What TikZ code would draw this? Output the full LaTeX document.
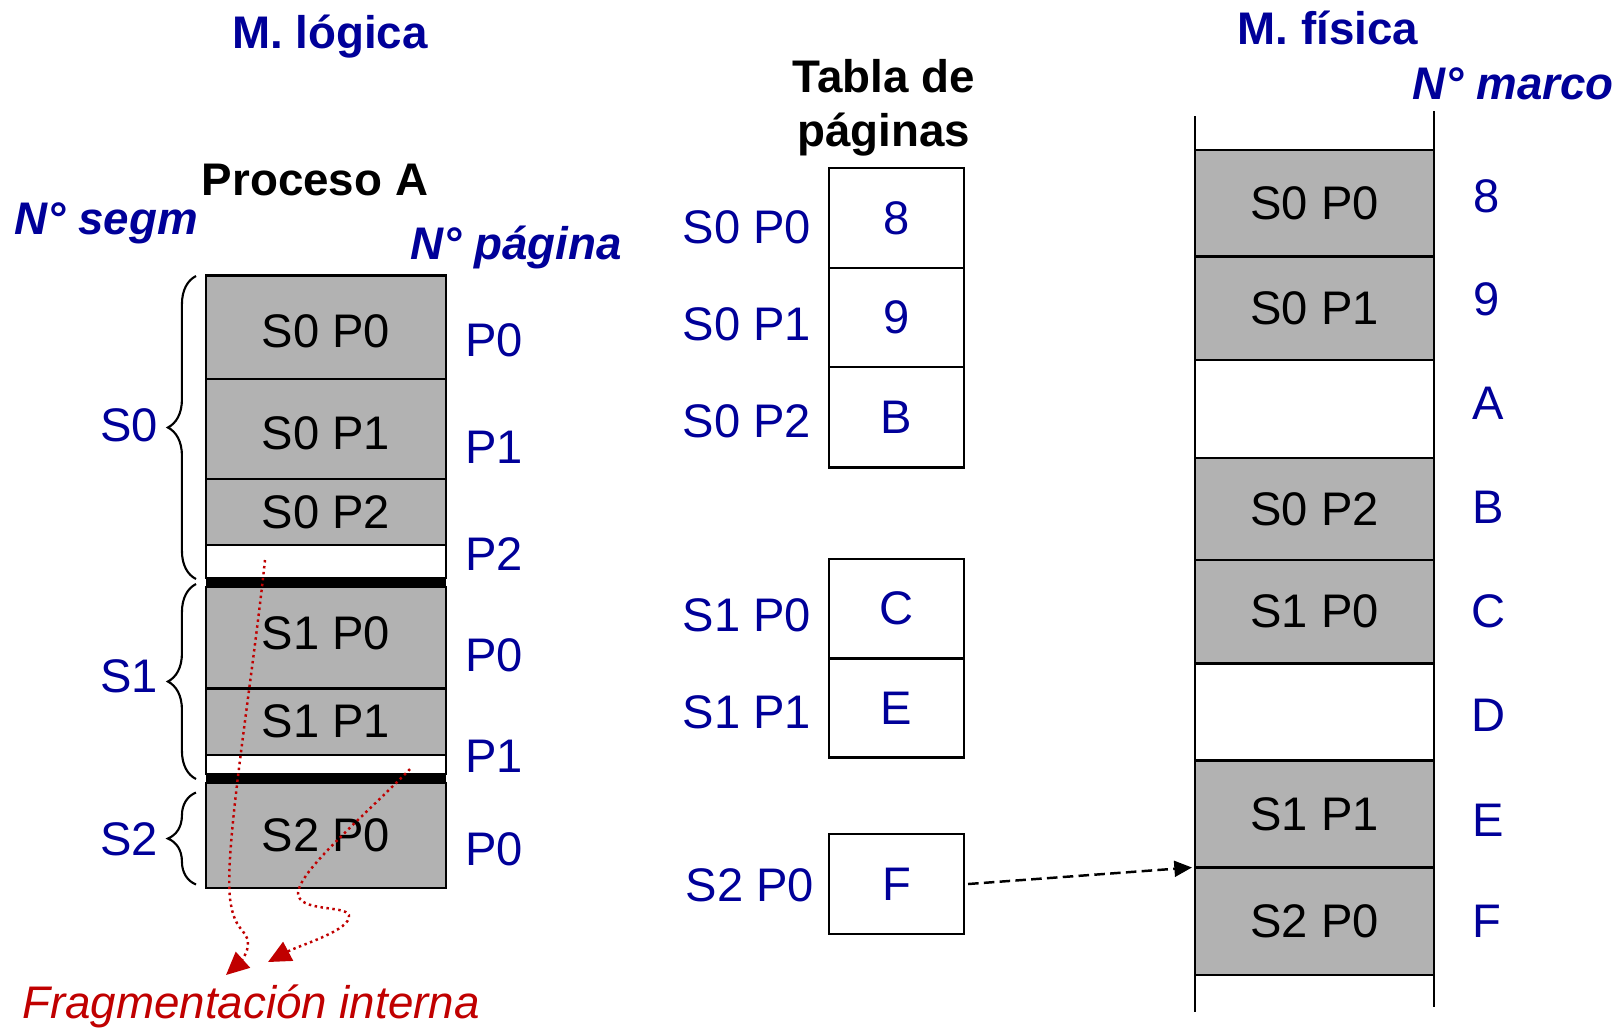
\documentclass[tikz,border=0pt]{standalone}
\usepackage{fontspec}
\setmainfont{Liberation Sans}
\usepackage{tikz}
\usetikzlibrary{positioning,arrows.meta,decorations.pathreplacing}
\usepackage{xcolor}
\definecolor{tblue}{RGB}{0,0,153}
\definecolor{pgray}{RGB}{178,178,178}
\definecolor{fred}{RGB}{192,0,0}

\begin{document}
\begin{tikzpicture}[x=0.01cm, y=-0.01cm,
    pagebox/.style={draw, line width=0.6pt, fill=pgray, minimum width=2.4cm, inner sep=0pt, outer sep=0pt, font=\fontsize{13.4}{16}\selectfont},
    gapbox/.style={draw, line width=0.6pt, fill=white, minimum width=2.4cm, inner sep=0pt, outer sep=0pt},
    barbox/.style={fill=black, minimum width=2.4cm, minimum height=0.09cm, inner sep=0pt, outer sep=0pt},
    framebox/.style={draw, line width=0.6pt, fill=pgray, minimum width=2.39cm, inner sep=0pt, outer sep=0pt, font=\fontsize{13.4}{16}\selectfont},
    tcell/.style={draw, line width=0.6pt, minimum width=1.35cm, inner sep=0pt, outer sep=0pt, text=tblue, font=\fontsize{13.4}{16}\selectfont},
    bluelabel/.style={text=tblue, inner sep=0pt, font=\fontsize{13.4}{16}\selectfont},
    titleblue/.style={text=tblue, inner sep=0pt, font=\fontsize{13}{16}\selectfont\bfseries},
    titleblack/.style={inner sep=0pt, font=\fontsize{13}{15.4}\selectfont\bfseries},
    axisblue/.style={text=tblue, inner sep=0pt, font=\fontsize{13}{16}\selectfont\bfseries\itshape},
    segbrace/.style={decorate, decoration={brace, amplitude=8pt}, line width=0.6pt},
    fragarrow/.style={fred, line width=0.7pt, densely dotted, -{Triangle[length=6.5pt, width=6pt]}},
    dasharrow/.style={line width=0.7pt, dash pattern=on 3pt off 1.5pt, -{Triangle[length=5pt, width=4.5pt]}}]
    \useasboundingbox (0,0) rectangle (1618,1029);

    % Titles
    \node[titleblue] (mlog) at (330,37) {M. lógica};
    \node[titleblack] (proc) at (315,180) {Proceso A};
    \node[axisblue] (nseg) at (106,223) {N° segm};
    \node[axisblue] (npag) at (516,247.5) {N° página};
    \node[titleblack, align=center] (tabla) at (884,108) {Tabla de\\páginas};
    \node[titleblue] (mfis) at (1328,28) {M. física};
    \node[axisblue] (nmar) at (1513,84) {N° marco};

    % Logical memory of process A
    \node[pagebox, minimum height=1.035cm, text height=0.40cm] (ls0p0) at (326,327.25) {S0 P0};
    \node[pagebox, minimum height=1.0cm, text height=0.41cm] (ls0p1) at (326,429) {S0 P1};
    \node[pagebox, minimum height=0.66cm] (ls0p2) at (326,512) {S0 P2};
    \node[gapbox, minimum height=0.33cm] (ls0gap) at (326,561.5) {};
    \node[barbox] (ls0end) at (326,582.5) {};
    \node[pagebox, minimum height=1.015cm, text depth=0.1cm] (ls1p0) at (326,637.75) {S1 P0};
    \node[pagebox, minimum height=0.665cm] (ls1p1) at (326,721.75) {S1 P1};
    \node[gapbox, minimum height=0.19cm] (ls1gap) at (326,764.5) {};
    \node[barbox] (ls1end) at (326,778.5) {};
    \node[pagebox, minimum height=1.05cm] (ls2p0) at (326,835.5) {S2 P0};

    % Page numbers
    \node[bluelabel] (lp0) at (494,340.5) {P0};
    \node[bluelabel] (lp1) at (494,447) {P1};
    \node[bluelabel] (lp2) at (494,554) {P2};
    \node[bluelabel] (lq0) at (494,655) {P0};
    \node[bluelabel] (lq1) at (494,756.5) {P1};
    \node[bluelabel] (lr0) at (494,849) {P0};

    % Segment braces
    \draw[segbrace] (196,579) -- (196,276);
    \draw[segbrace] (196,779) -- (196,584);
    \draw[segbrace] (196,884.5) -- (196,792.5);
    \node[bluelabel] (seg0) at (129,425) {S0};
    \node[bluelabel] (seg1) at (129,676) {S1};
    \node[bluelabel] (seg2) at (129,839) {S2};

    % Internal fragmentation
    \node[text=fred, inner sep=0pt, font=\fontsize{13}{16}\selectfont\itshape] (frag) at (251,1006) {Fragmentación interna};
    \coordinate (hole0) at (265,560);
    \coordinate (hole1) at (410,769);
    \coordinate (tip0) at (226,975);
    \coordinate (tip1) at (268,962);
    \draw[fragarrow] (hole0) .. controls (250,700) and (222,860) .. (231,905) .. controls (236,935) and (252,930) .. (247,950) .. controls (244,960) and (236,966) .. (tip0);
    \draw[fragarrow] (hole1) .. controls (360,820) and (300,870) .. (298,893) .. controls (298,912) and (345,905) .. (349,915) .. controls (352,930) and (300,945) .. (tip1);

    % Page tables
    \node[tcell, minimum height=1.0cm] (t00) at (896.5,218) {8};
    \node[tcell, minimum height=0.99cm] (t01) at (896.5,317.5) {9};
    \node[tcell, minimum height=1.005cm] (t02) at (896.5,417.25) {B};
    \node[tcell, minimum height=0.995cm] (t10) at (896.5,608.75) {C};
    \node[tcell, minimum height=0.99cm] (t11) at (896.5,708) {E};
    \node[tcell, minimum height=1.0cm] (t20) at (896.5,884) {F};
    \node[bluelabel] (e00) at (747,227) {S0 P0};
    \node[bluelabel] (e01) at (747,324) {S0 P1};
    \node[bluelabel] (e02) at (747,421) {S0 P2};
    \node[bluelabel] (e10) at (747,615) {S1 P0};
    \node[bluelabel] (e11) at (747,712) {S1 P1};
    \node[bluelabel] (e20) at (750,885.5) {S2 P0};

    % Physical memory
    \node[framebox, minimum height=1.065cm] (f8) at (1314.5,203.25) {S0 P0};
    \node[framebox, minimum height=1.035cm] (f9) at (1314.5,308.25) {S0 P1};
    \node[framebox, fill=none, minimum height=0.98cm] (fa) at (1314.5,409) {};
    \node[framebox, minimum height=1.02cm] (fb) at (1314.5,509) {S0 P2};
    \node[framebox, minimum height=1.035cm] (fc) at (1314.5,611.75) {S1 P0};
    \node[framebox, fill=none, minimum height=0.97cm] (fd) at (1314.5,712) {};
    \node[framebox, minimum height=1.07cm] (fe) at (1314.5,814) {S1 P1};
    \node[framebox, minimum height=1.075cm] (ff) at (1314.5,921.25) {S2 P0};
    \draw[line width=0.8pt] (1195,116) -- (1195,1012);
    \draw[line width=0.8pt] (1434,111) -- (1434,1007);

    % Frame numbers
    \node[bluelabel] (n8) at (1487,196) {8};
    \node[bluelabel] (n9) at (1487,299) {9};
    \node[bluelabel] (na) at (1488,403.5) {A};
    \node[bluelabel] (nb) at (1488,507) {B};
    \node[bluelabel] (nc) at (1488,611) {C};
    \node[bluelabel] (nd) at (1488,715) {D};
    \node[bluelabel] (ne) at (1488,820) {E};
    \node[bluelabel] (nf) at (1487,921.5) {F};

    % Translation of S2 P0
    \draw[dasharrow] ([xshift=0.04cm]t20.east) -- ([xshift=-0.03cm]ff.north west);
\end{tikzpicture}
\end{document}
